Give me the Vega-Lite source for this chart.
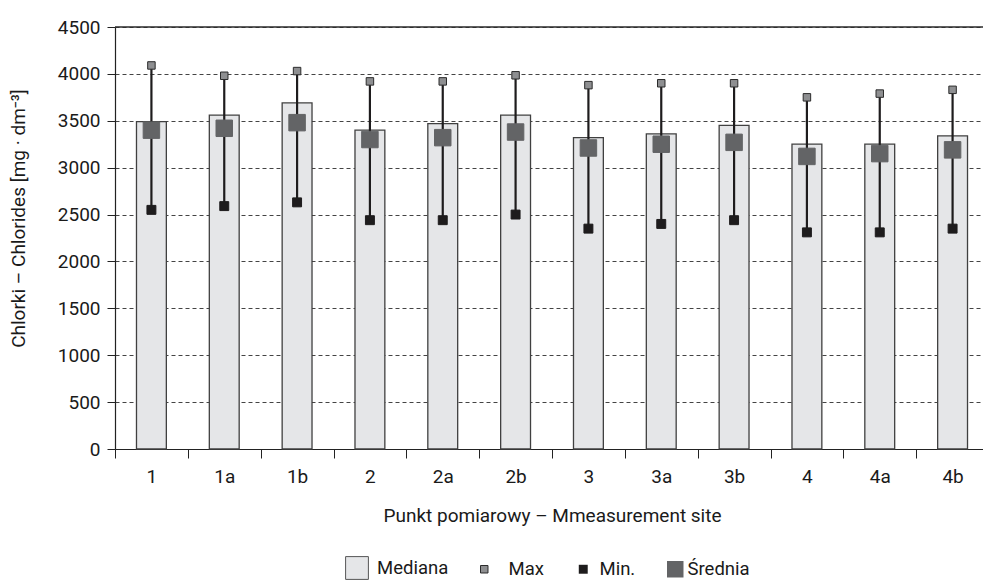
{
  "$schema": "https://vega.github.io/schema/vega-lite/v6.json",
  "autosize": {"type": "none"},
  "width": 868,
  "height": 422,
  "padding": {"left": 115, "top": 27, "right": 0, "bottom": 131},
  "background": "white",
  "config": {
    "view": {"stroke": null},
    "font": "Roboto",
    "axis": {"labelFont": "Roboto", "titleFont": "Roboto", "labelColor": "#1a1a1a", "titleColor": "#1a1a1a", "titleFontWeight": "normal"},
    "legend": {
      "labelFont": "Roboto",
      "labelFontSize": 18.5,
      "labelColor": "#1a1a1a",
      "symbolType": "square",
      "symbolStrokeWidth": 1,
      "orient": "bottom",
      "offset": 31,
      "layout": {"anchor": "middle", "direction": "horizontal", "margin": 22, "bottom": {"anchor": "middle", "direction": "horizontal", "margin": 22}}
    }
  },
  "data": {
    "values": [
      {"site": "1", "median": 3490, "max": 4090, "min": 2550, "mean": 3400},
      {"site": "1a", "median": 3560, "max": 3980, "min": 2590, "mean": 3420},
      {"site": "1b", "median": 3690, "max": 4030, "min": 2630, "mean": 3480},
      {"site": "2", "median": 3400, "max": 3920, "min": 2440, "mean": 3300},
      {"site": "2a", "median": 3470, "max": 3920, "min": 2440, "mean": 3320},
      {"site": "2b", "median": 3560, "max": 3985, "min": 2500, "mean": 3380},
      {"site": "3", "median": 3320, "max": 3880, "min": 2350, "mean": 3210},
      {"site": "3a", "median": 3360, "max": 3900, "min": 2400, "mean": 3250},
      {"site": "3b", "median": 3450, "max": 3900, "min": 2440, "mean": 3270},
      {"site": "4", "median": 3250, "max": 3750, "min": 2310, "mean": 3120},
      {"site": "4a", "median": 3250, "max": 3790, "min": 2310, "mean": 3150},
      {"site": "4b", "median": 3340, "max": 3830, "min": 2350, "mean": 3190}
    ]
  },
  "layer": [
    {
      "mark": {"type": "bar", "width": {"band": 0.41}, "stroke": "#404040", "strokeWidth": 1.3},
      "encoding": {
        "x": {
          "field": "site",
          "type": "ordinal",
          "sort": null,
          "scale": {"range": [0, 874], "paddingInner": 0, "paddingOuter": 0},
          "axis": {
            "title": "Punkt pomiarowy – Mmeasurement site",
            "titleFontSize": 19,
            "titlePadding": 20,
            "labelFontSize": 19,
            "labelPadding": 9,
            "labelAngle": 0,
            "tickBand": "extent",
            "tickSize": 9,
            "tickColor": "#222",
            "domainColor": "#222",
            "domainWidth": 1.2,
            "grid": false
          }
        },
        "y": {
          "field": "median",
          "type": "quantitative",
          "scale": {"domain": [0, 4500], "nice": false},
          "axis": {
            "title": "Chlorki – Chlorides [mg · dm⁻³]",
            "titleFontSize": 19,
            "titlePadding": 29,
            "titleY": 191,
            "values": [0, 500, 1000, 1500, 2000, 2500, 3000, 3500, 4000, 4500],
            "format": "d",
            "labelFontSize": 19,
            "labelPadding": 7,
            "tickSize": 8,
            "tickColor": "#222",
            "domainColor": "#222",
            "domainWidth": 1.2,
            "grid": true,
            "gridColor": "#444",
            "gridDash": [4, 3],
            "gridWidth": 1
          }
        },
        "fill": {
          "datum": "Mediana",
          "type": "nominal",
          "scale": {"domain": ["Mediana"], "range": ["#e5e6e8"]},
          "legend": {"title": null, "symbolSize": 520, "symbolStrokeColor": "#555555", "labelOffset": 8}
        }
      }
    },
    {
      "mark": {"type": "rule", "color": "#1e1c1d", "strokeWidth": 2.2},
      "encoding": {
        "x": {"field": "site", "type": "ordinal", "sort": null, "scale": {"range": [0, 874], "paddingInner": 0, "paddingOuter": 0}},
        "y": {"field": "min", "type": "quantitative"},
        "y2": {"field": "max"}
      }
    },
    {
      "mark": {"type": "point", "shape": "square", "filled": true, "fill": "#8e8f91", "opacity": 1, "size": 56, "strokeWidth": 1},
      "encoding": {
        "x": {"field": "site", "type": "ordinal", "sort": null, "scale": {"range": [0, 874], "paddingInner": 0, "paddingOuter": 0}},
        "y": {"field": "max", "type": "quantitative"},
        "stroke": {
          "datum": "Max",
          "type": "nominal",
          "scale": {"domain": ["Max"], "range": ["#2b2b2b"]},
          "legend": {"title": null, "symbolSize": 56, "symbolFillColor": "#8e8f91", "labelOffset": 15, "padding": 4}
        }
      }
    },
    {
      "mark": {"type": "point", "shape": "square", "filled": true, "color": "#1e1c1d", "opacity": 1, "stroke": "#1e1c1d", "strokeWidth": 1},
      "encoding": {
        "x": {"field": "site", "type": "ordinal", "sort": null, "scale": {"range": [0, 874], "paddingInner": 0, "paddingOuter": 0}},
        "y": {"field": "min", "type": "quantitative"},
        "size": {
          "datum": "Min.",
          "type": "nominal",
          "scale": {"domain": ["Min."], "range": [80, 80]},
          "legend": {"title": null, "symbolFillColor": "#1e1c1d", "symbolStrokeColor": "#1e1c1d", "labelOffset": 7, "padding": 4}
        }
      }
    },
    {
      "mark": {"type": "point", "filled": true, "color": "#636466", "opacity": 1, "size": 272, "stroke": "#636466", "strokeWidth": 1},
      "encoding": {
        "x": {"field": "site", "type": "ordinal", "sort": null, "scale": {"range": [0, 874], "paddingInner": 0, "paddingOuter": 0}},
        "y": {"field": "mean", "type": "quantitative"},
        "shape": {
          "datum": "Średnia",
          "type": "nominal",
          "scale": {"domain": ["Średnia"], "range": ["square"]},
          "legend": {"title": null, "symbolSize": 272, "symbolFillColor": "#636466", "symbolStrokeColor": "#636466", "labelOffset": 3, "padding": 4}
        }
      }
    },
    {
      "data": {"values": [{}]},
      "mark": {"type": "rule", "color": "#2a2a2a", "strokeWidth": 1.4},
      "encoding": {"y": {"datum": 4500}}
    }
  ]
}
